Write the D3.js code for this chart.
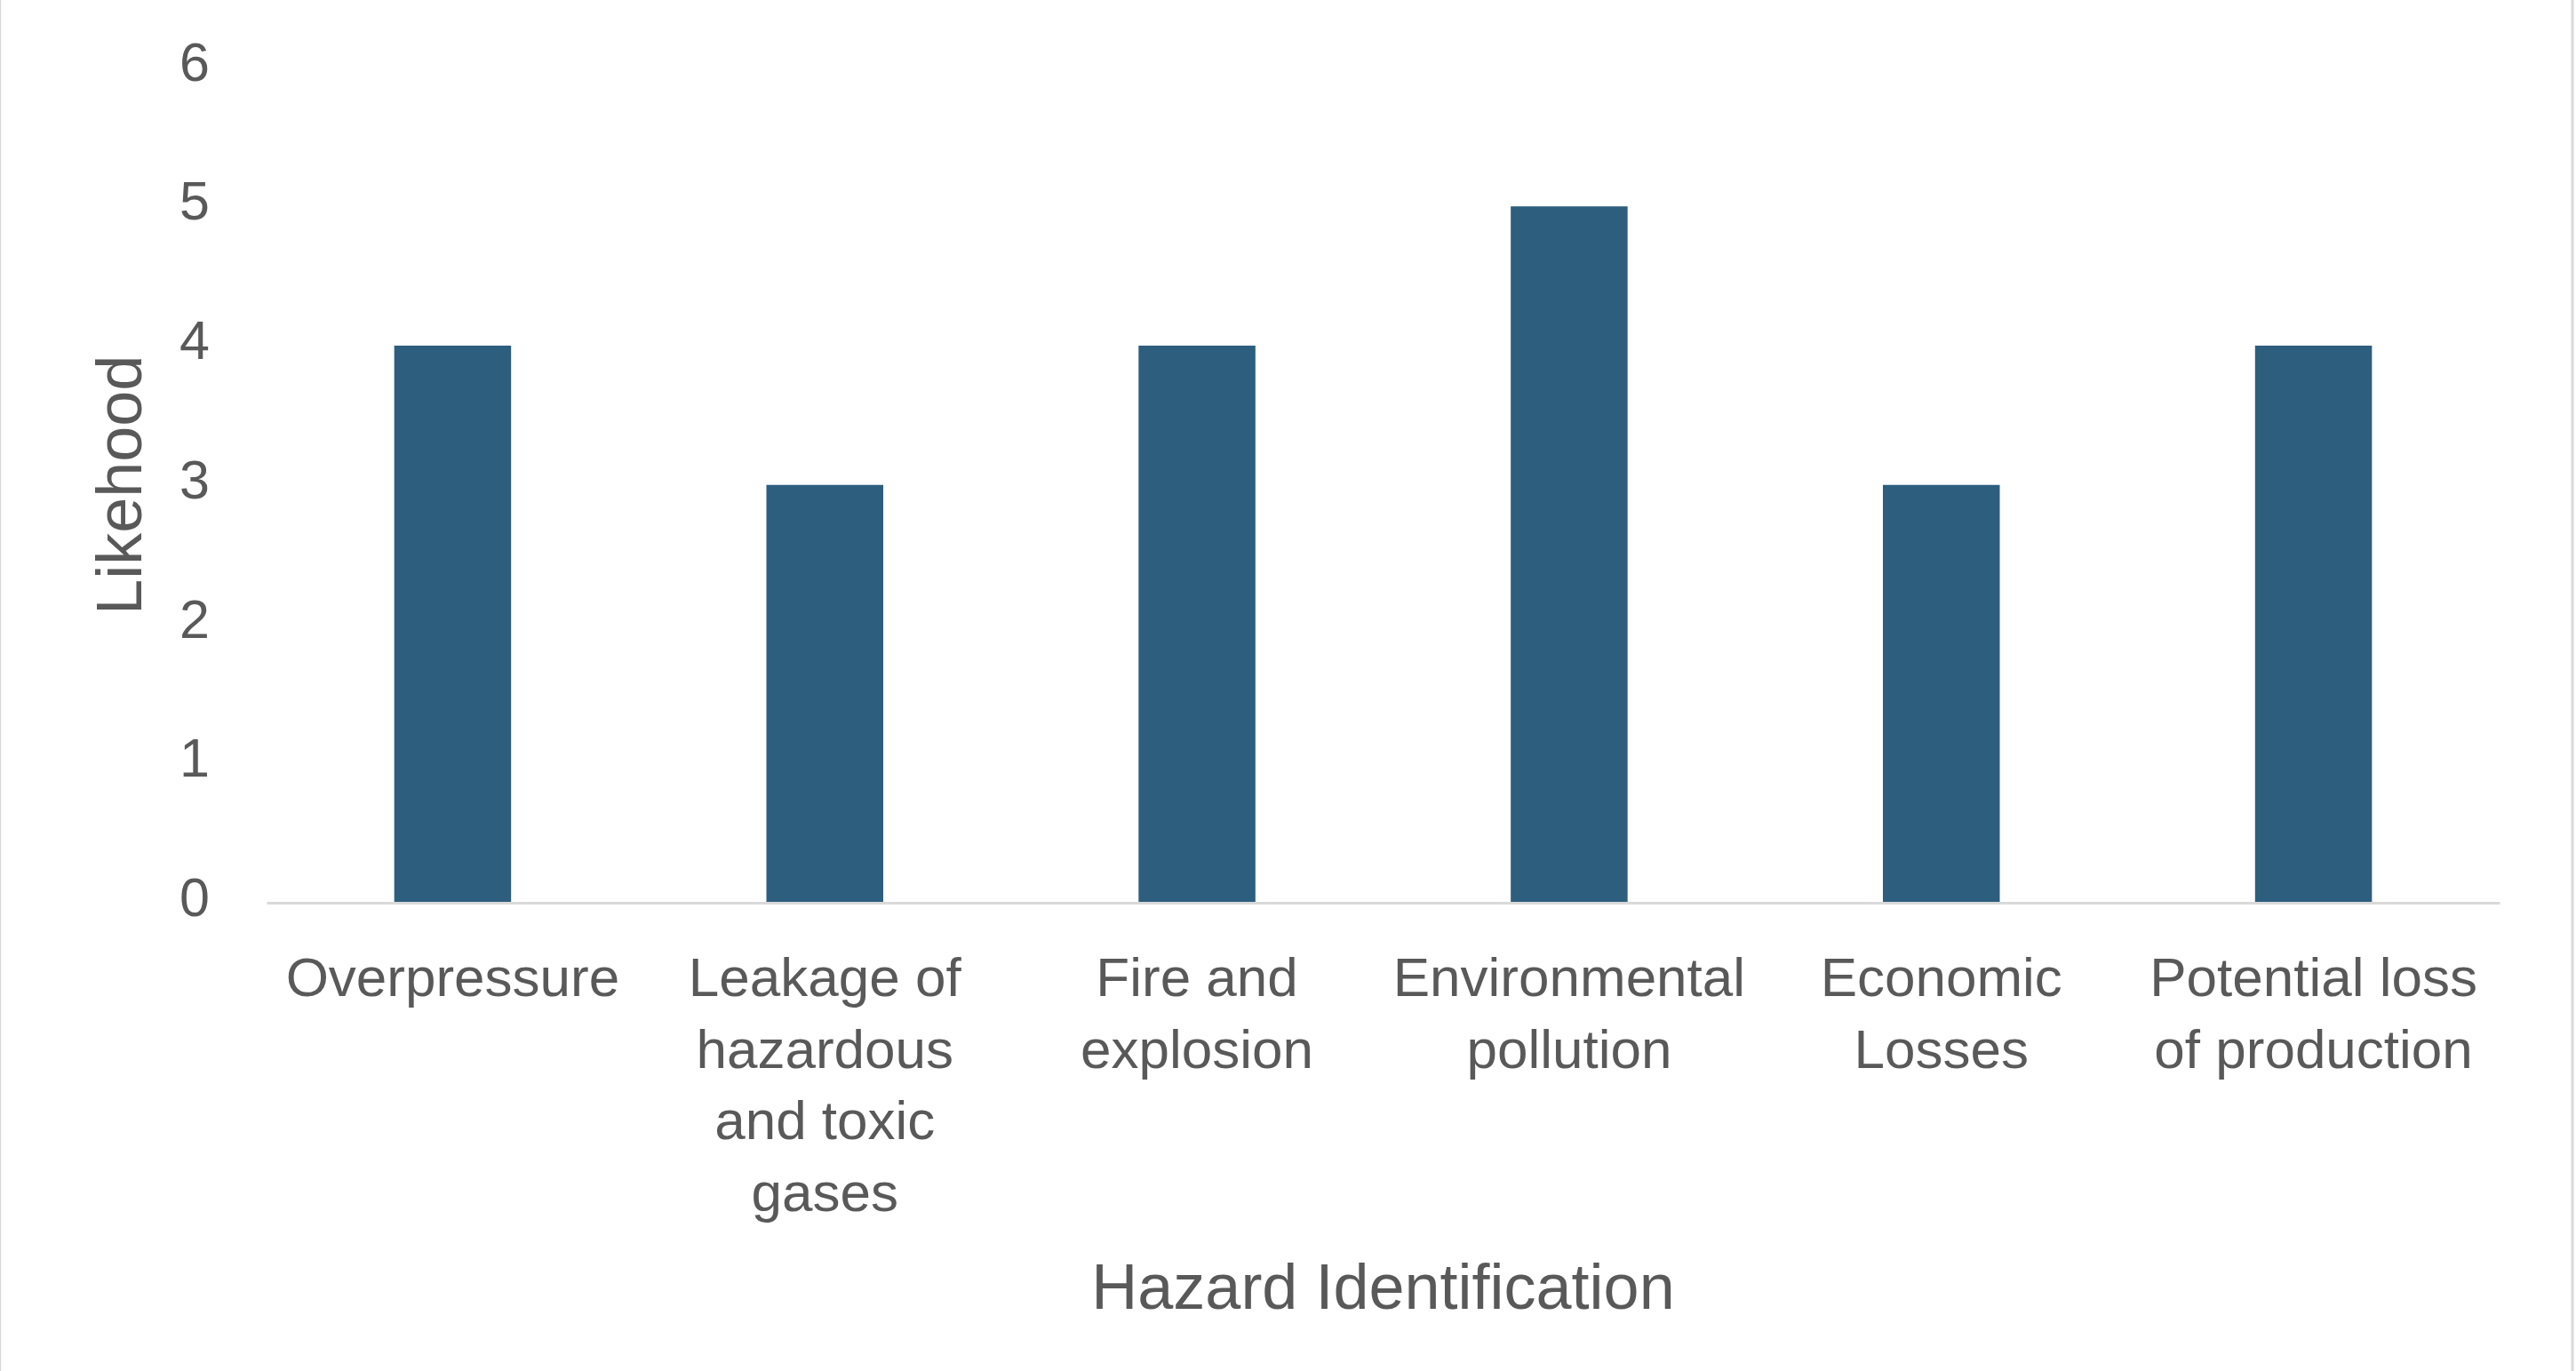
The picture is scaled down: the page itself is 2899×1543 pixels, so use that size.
<!DOCTYPE html>
<html>
<head>
<meta charset="utf-8">
<script src="https://cdn.jsdelivr.net/npm/d3@7"></script>
<style>
  body { margin: 0; background: #fff; }
  text { font-family: "Liberation Sans", Arial, sans-serif; fill: #595959; }
</style>
</head>
<body>
<script>
var categories = ["Overpressure", "Leakage of hazardous and toxic gases", "Fire and explosion",
                  "Environmental pollution", "Economic Losses", "Potential loss of production"];
var tickLines = [["Overpressure"], ["Leakage of", "hazardous", "and toxic", "gases"], ["Fire and", "explosion"],
                 ["Environmental", "pollution"], ["Economic", "Losses"], ["Potential loss", "of production"]];
var likelihood = [4, 3, 4, 5, 3, 4];
var yTicks = [0, 1, 2, 3, 4, 5, 6];

var W = 2899, H = 1543;
var margin = {top: 75.5, right: 86, bottom: 527, left: 300},
    width = W - margin.left - margin.right,
    height = H - margin.top - margin.bottom;

var svg = d3.select("body").append("svg")
  .attr("width", W)
  .attr("height", H);

// chart frame edges
svg.append("line").attr("x1", 0.5).attr("x2", 0.5).attr("y1", 0).attr("y2", H)
  .attr("stroke", "#d9d9d9").attr("stroke-width", 1.5);
svg.append("line").attr("x1", 2895).attr("x2", 2895).attr("y1", 0).attr("y2", H)
  .attr("stroke", "#d9d9d9").attr("stroke-width", 3);

var g = svg.append("g")
  .attr("transform", "translate(" + margin.left + "," + margin.top + ")");

var x = d3.scaleBand().domain(categories).range([0, width])
  .paddingInner(0.686).paddingOuter(0.343);
var y = d3.scaleLinear().domain([0, 6]).range([height, 0]);

// bars
g.selectAll(".bar")
  .data(likelihood)
  .enter().append("rect")
  .attr("class", "bar")
  .attr("x", function(d, i) { return x(categories[i]); })
  .attr("width", x.bandwidth())
  .attr("y", function(d) { return y(d); })
  .attr("height", function(d) { return y(0) - y(d); })
  .attr("fill", "#2e5e7e");

// y axis
var yAxis = g.append("g")
  .call(d3.axisLeft(y).tickValues(yTicks).tickFormat(d3.format("d")).tickSize(0).tickPadding(64));
yAxis.select(".domain").remove();
yAxis.selectAll("text")
  .attr("dy", "0.32em")
  .attr("y", -5)
  .style("font-size", "61px")
  .attr("fill", "#595959");

// x axis
var xAxis = g.append("g")
  .attr("transform", "translate(0," + height + ")")
  .call(d3.axisBottom(x).tickSize(0).tickFormat(""));
xAxis.select(".domain")
  .attr("stroke", "#d9d9d9").attr("stroke-width", 3);

xAxis.selectAll(".tick").each(function(d, i) {
  var t = d3.select(this).append("text")
    .attr("text-anchor", "middle")
    .style("font-size", "62px");
  tickLines[i].forEach(function(line, j) {
    t.append("tspan").attr("x", 0).attr("y", 105 + j * 80.7).text(line);
  });
});

// axis titles
svg.append("text")
  .attr("x", margin.left + width / 2)
  .attr("y", 1473)
  .attr("text-anchor", "middle")
  .style("font-size", "72px")
  .text("Hazard Identification");

svg.append("text")
  .attr("transform", "translate(159," + (margin.top + height / 2) + ") rotate(-90)")
  .attr("text-anchor", "middle")
  .style("font-size", "72px")
  .text("Likehood");
</script>
</body>
</html>
